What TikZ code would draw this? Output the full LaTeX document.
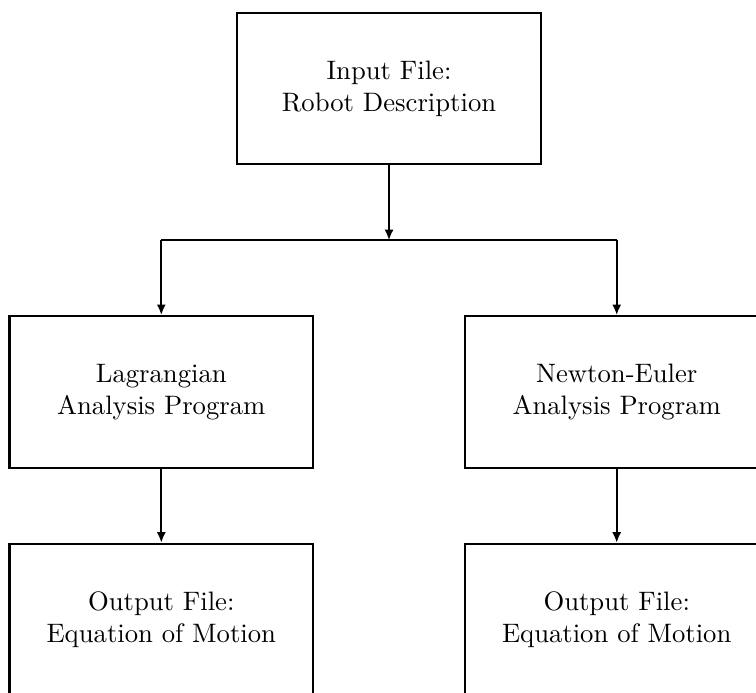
\documentclass[tikz,border=0pt]{standalone}
\usetikzlibrary{arrows.meta}
\begin{document}
\begin{tikzpicture}[
  box/.style={draw, thick, minimum width=4cm, minimum height=2cm, align=center, inner sep=0pt},
  conn/.style={thick, -{Latex[length=1.4mm,width=1.2mm]}}
]
\useasboundingbox (-5.125,-7.951) rectangle (4.835,1.166);
\node[box] (in) at (0,0) {Input File:\\Robot Description};
\node[box] (lag) at (-3,-4) {Lagrangian\\Analysis Program};
\node[box] (ne) at (3,-4) {Newton-Euler\\Analysis Program};
\node[box] (outl) at (-3,-7) {Output File:\\Equation of Motion};
\node[box] (outr) at (3,-7) {Output File:\\Equation of Motion};
\coordinate (j) at (0,-2);
\coordinate (jl) at (-3,-2);
\coordinate (jr) at (3,-2);
\draw[conn] (in.south) -- (j);
\draw[thick] (jl) -- (jr);
\draw[conn] (jl) -- (lag.north);
\draw[conn] (jr) -- (ne.north);
\draw[conn] (lag.south) -- (outl.north);
\draw[conn] (ne.south) -- (outr.north);
\end{tikzpicture}
\end{document}
